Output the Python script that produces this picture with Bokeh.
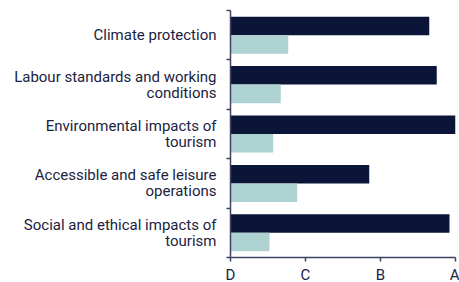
from bokeh.plotting import figure
from bokeh.models import FixedTicker, ColumnDataSource, Range1d
from bokeh.embed import file_html
from bokeh.resources import INLINE
from bokeh.transform import dodge

categories = ["Climate protection",
              "Labour standards and working\nconditions",
              "Environmental impacts of\ntourism",
              "Accessible and safe leisure\noperations",
              "Social and ethical impacts of\ntourism"]
series_a = [2.65, 2.75, 3.0, 1.85, 2.92]
series_b = [0.77, 0.67, 0.57, 0.89, 0.52]
grade_labels = ["D", "C", "B", "A"]

n = len(categories)
centers = [n - i - 0.5 for i in range(n)]

src = ColumnDataSource(dict(y=centers, a=series_a, b=series_b))

p = figure(frame_width=225, frame_height=247, output_backend="svg",
           toolbar_location=None, x_range=Range1d(0, 3), y_range=Range1d(0, n),
           min_border_left=230, min_border_right=4, min_border_top=10, min_border_bottom=20)
p.outline_line_color = None
p.grid.grid_line_color = None
p.background_fill_color = "white"
p.border_fill_color = "white"

p.hbar(y=dodge("y", 0.1875, range=p.y_range), right="a", left=0, height=0.375,
       source=src, color="#0b1538", line_color=None)
p.hbar(y=dodge("y", -0.1875, range=p.y_range), right="b", left=0, height=0.375,
       source=src, color="#aed2d2", line_color=None)

text_color = "#1b2341"
axis_color = "#3c4260"

p.yaxis.ticker = FixedTicker(ticks=centers, minor_ticks=list(range(n + 1)))
p.yaxis.major_label_overrides = {c: lab for c, lab in zip(centers, categories)}
p.yaxis.major_tick_line_color = None
p.yaxis.minor_tick_line_color = axis_color
p.yaxis.minor_tick_out = 4
p.yaxis.minor_tick_in = 0
p.yaxis.minor_tick_line_width = 1.5

p.xaxis.ticker = FixedTicker(ticks=list(range(len(grade_labels))))
p.xaxis.major_label_overrides = {i: g for i, g in enumerate(grade_labels)}
p.xaxis.major_tick_out = 4
p.xaxis.major_tick_in = 0
p.xaxis.minor_tick_line_color = None
p.xaxis.major_tick_line_color = axis_color
p.xaxis.major_tick_line_width = 1.5

for ax in (p.xaxis, p.yaxis):
    ax.axis_line_color = axis_color
    ax.axis_line_width = 1.5
    ax.major_label_text_font = "Roboto"
    ax.major_label_text_font_size = "15px"
    ax.major_label_text_color = text_color
    ax.major_label_text_line_height = 0.88
p.yaxis.major_label_standoff = 8
p.xaxis.major_label_standoff = 4

open("out.html", "w").write(file_html(p, INLINE))
